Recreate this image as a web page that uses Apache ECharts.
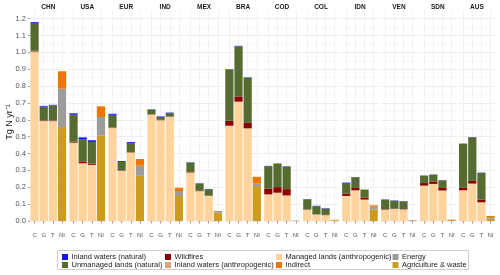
<!DOCTYPE html>
<html><head><meta charset="utf-8">
<script src="https://cdn.jsdelivr.net/npm/echarts@6/dist/echarts.min.js"></script>
<style>html,body{margin:0;padding:0;background:#fff}#c{width:500px;height:275px}</style>
</head><body><div id="c"></div>
<script>
const regions = ['CHN','USA','EUR','IND','MEX','BRA','COD','COL','IDN','VEN','SDN','AUS'];
const methods = ['C','G','T','NI'];
const yTicks = [0,0.1,0.2,0.3,0.4,0.5,0.6,0.7,0.8,0.9,1.0,1.1,1.2];

// values per region for methods C, G, T (Tg N / yr)
const inlandNatural = [
  [0.005,0.004,0.004],[0.008,0.010,0.010],[0.006,0.005,0.006],[0.003,0.003,0.003],
  [0.002,0.002,0.002],[0.003,0.003,0.003],[0.002,0.002,0.002],[0.002,0.002,0.002],
  [0.002,0.002,0.002],[0.002,0.002,0.002],[0.001,0.001,0.001],[0.002,0.002,0.002]];
const unmanaged = [
  [0.165,0.082,0.088],[0.160,0.135,0.128],[0.075,0.050,0.053],[0.025,0.018,0.020],
  [0.055,0.043,0.037],[0.302,0.297,0.267],[0.132,0.138,0.134],[0.059,0.048,0.038],
  [0.063,0.063,0.045],[0.055,0.047,0.045],[0.044,0.040,0.045],[0.258,0.258,0.158]];
const wildfires = [
  [0.004,0.003,0.003],[0.006,0.008,0.008],[0.002,0.002,0.002],[0.002,0.002,0.002],
  [0.003,0.002,0.002],[0.030,0.031,0.032],[0.035,0.033,0.037],[0.002,0.001,0.001],
  [0.014,0.014,0.012],[0.003,0.002,0.002],[0.015,0.015,0.015],[0.017,0.016,0.016]];
const inlandAnthro = [
  [0.006,0.004,0.004],[0.003,0.003,0.003],[0.003,0.002,0.002],[0.002,0.002,0.002],
  [0.001,0.001,0.001],[0.002,0.002,0.002],[0.001,0.001,0.001],[0.001,0.001,0.001],
  [0.001,0.001,0.001],[0.001,0.001,0.001],[0.001,0.001,0.001],[0.001,0.001,0.001]];
const managed = [
  [1.000,0.590,0.590],[0.462,0.340,0.330],[0.550,0.296,0.405],[0.630,0.596,0.616],
  [0.287,0.176,0.148],[0.563,0.706,0.548],[0.157,0.167,0.151],[0.066,0.038,0.034],
  [0.148,0.181,0.126],[0.067,0.070,0.068],[0.209,0.219,0.180],[0.181,0.221,0.110]];
// values per region for method NI
const agriculture = [0.558,0.507,0.268,0.148,0.050,0.207,0.001,0.002,0.069,0.001,0.001,0.014];
const energy      = [0.227,0.110,0.060,0.030,0.003,0.014,0.001,0.001,0.016,0.004,0.001,0.010];
const indirect    = [0.103,0.063,0.040,0.019,0.006,0.041,0.001,0.004,0.008,0.001,0.006,0.006];

const FONT = '"Liberation Sans", Arial, Helvetica, sans-serif';
const components = [
  {name:'Agriculture & waste', color:'#CD9B1D', ni: agriculture},
  {name:'Energy', color:'#9C9C9C', ni: energy},
  {name:'Indirect', color:'#EE7600', ni: indirect},
  {name:'Managed lands (anthropogenic)', color:'#FFD39B', cgt: managed},
  {name:'Inland waters (anthropogenic)', color:'#D9A679', cgt: inlandAnthro},
  {name:'Wildfires', color:'#8B0000', cgt: wildfires},
  {name:'Unmanaged lands (natural)', color:'#556B2F', cgt: unmanaged},
  {name:'Inland waters (natural)', color:'#1414FF', cgt: inlandNatural}
];

const X0 = 30, STEP = 38.96, PW = 36.6;
const ZERO_Y = 221, PX_PER_UNIT = 168.6, YMAX = 1.25;
const TOP = ZERO_Y - YMAX * PX_PER_UNIT;

const grid = [], xAxis = [], yAxis = [], series = [], graphic = [];
regions.forEach((r, i) => {
  const left = X0 + i * STEP;
  grid.push({left: left, top: TOP, width: PW, height: ZERO_Y - TOP, containLabel: false});
  xAxis.push({
    type:'category', gridIndex:i, data: methods, position:'bottom', offset: 8,
    axisLine:{show:false},
    axisTick:{show:true, alignWithLabel:true, length:2.5, lineStyle:{color:'#8a8a8a', width:0.8}},
    axisLabel:{show:true, interval:0, margin:3, fontSize:6, color:'#555', fontFamily: FONT},
    splitLine:{show:false}
  });
  xAxis.push({
    type:'value', gridIndex:i, min:0, max:8, interval:1, show:true,
    axisLine:{show:false}, axisTick:{show:false}, axisLabel:{show:false},
    splitLine:{show:true, lineStyle:{color:['rgba(0,0,0,0)','#efefef'], width:0.8}}
  });
  yAxis.push({
    type:'value', gridIndex:i, min:0, max:YMAX, interval:0.1,
    axisLine:{show:false},
    axisTick:{show: i===0, length:2, lineStyle:{color:'#8a8a8a', width:0.8}},
    axisLabel:{show: i===0, margin:4, fontSize:7.5, color:'#555', fontFamily: FONT,
      showMaxLabel:false,
      formatter: v => {
        const k = Math.round(v*10);
        return yTicks.some(t => Math.abs(t - v) < 1e-6) ? (k/10).toFixed(1) : '';
      }},
    splitLine:{show:true, showMaxLine:false, lineStyle:{color:'#ebebeb', width:0.9}},
    minorTick:{show:false, splitNumber:2},
    minorSplitLine:{show:true, lineStyle:{color:'#f5f5f5', width:0.6}}
  });
  components.forEach(c => {
    const data = c.cgt ? [c.cgt[i][0], c.cgt[i][1], c.cgt[i][2], 0]
                       : [0, 0, 0, c.ni[i]];
    series.push({
      type:'bar', name:c.name, stack:'s'+i, xAxisIndex: 2*i, yAxisIndex: i,
      barWidth: 8.2, data: data, itemStyle:{color:c.color},
      silent:true, emphasis:{disabled:true}
    });
  });
  graphic.push({type:'text', x: left + PW/2, y: 6.8, silent:true,
    style:{text:r, textAlign:'center', textVerticalAlign:'middle',
      font:'bold 6.5px ' + FONT, fill:'#1a1a1a'}});
});

graphic.push({type:'text', x: 10, y: 122, rotation: Math.PI/2, silent:true,
  style:{text:'Tg N yr\u207B\u00B9', textAlign:'center', textVerticalAlign:'middle',
    font:'9px ' + FONT, fill:'#1a1a1a'}});
graphic.push({type:'rect', shape:{x:57.5, y:250.5, width:411, height:19}, silent:true,
  style:{fill:'none', stroke:'#cfcfcf', lineWidth:1}});

const legendCols = [
  {left:62, names:['Inland waters (natural)','Unmanaged lands (natural)']},
  {left:165, names:['Wildfires','Inland waters (anthropogenic)']},
  {left:276, names:['Managed lands (anthropogenic)','Indirect']},
  {left:392.5, names:['Energy','Agriculture & waste']}
];
const legend = legendCols.map(col => ({
  orient:'vertical', left: col.left, top: 253, padding:0, itemGap:0,
  itemWidth:6, itemHeight:6, icon:'rect', selectedMode:false,
  data: col.names,
  textStyle:{fontSize:7.5, lineHeight:7.3, color:'#1a1a1a', fontFamily: FONT, padding:[0,0,0,-1.5]}
}));

const chart = echarts.init(document.getElementById('c'), null, {renderer:'canvas'});
chart.setOption({
  animation:false, backgroundColor:'#ffffff',
  grid, xAxis, yAxis, series, legend, graphic
});
</script></body></html>
